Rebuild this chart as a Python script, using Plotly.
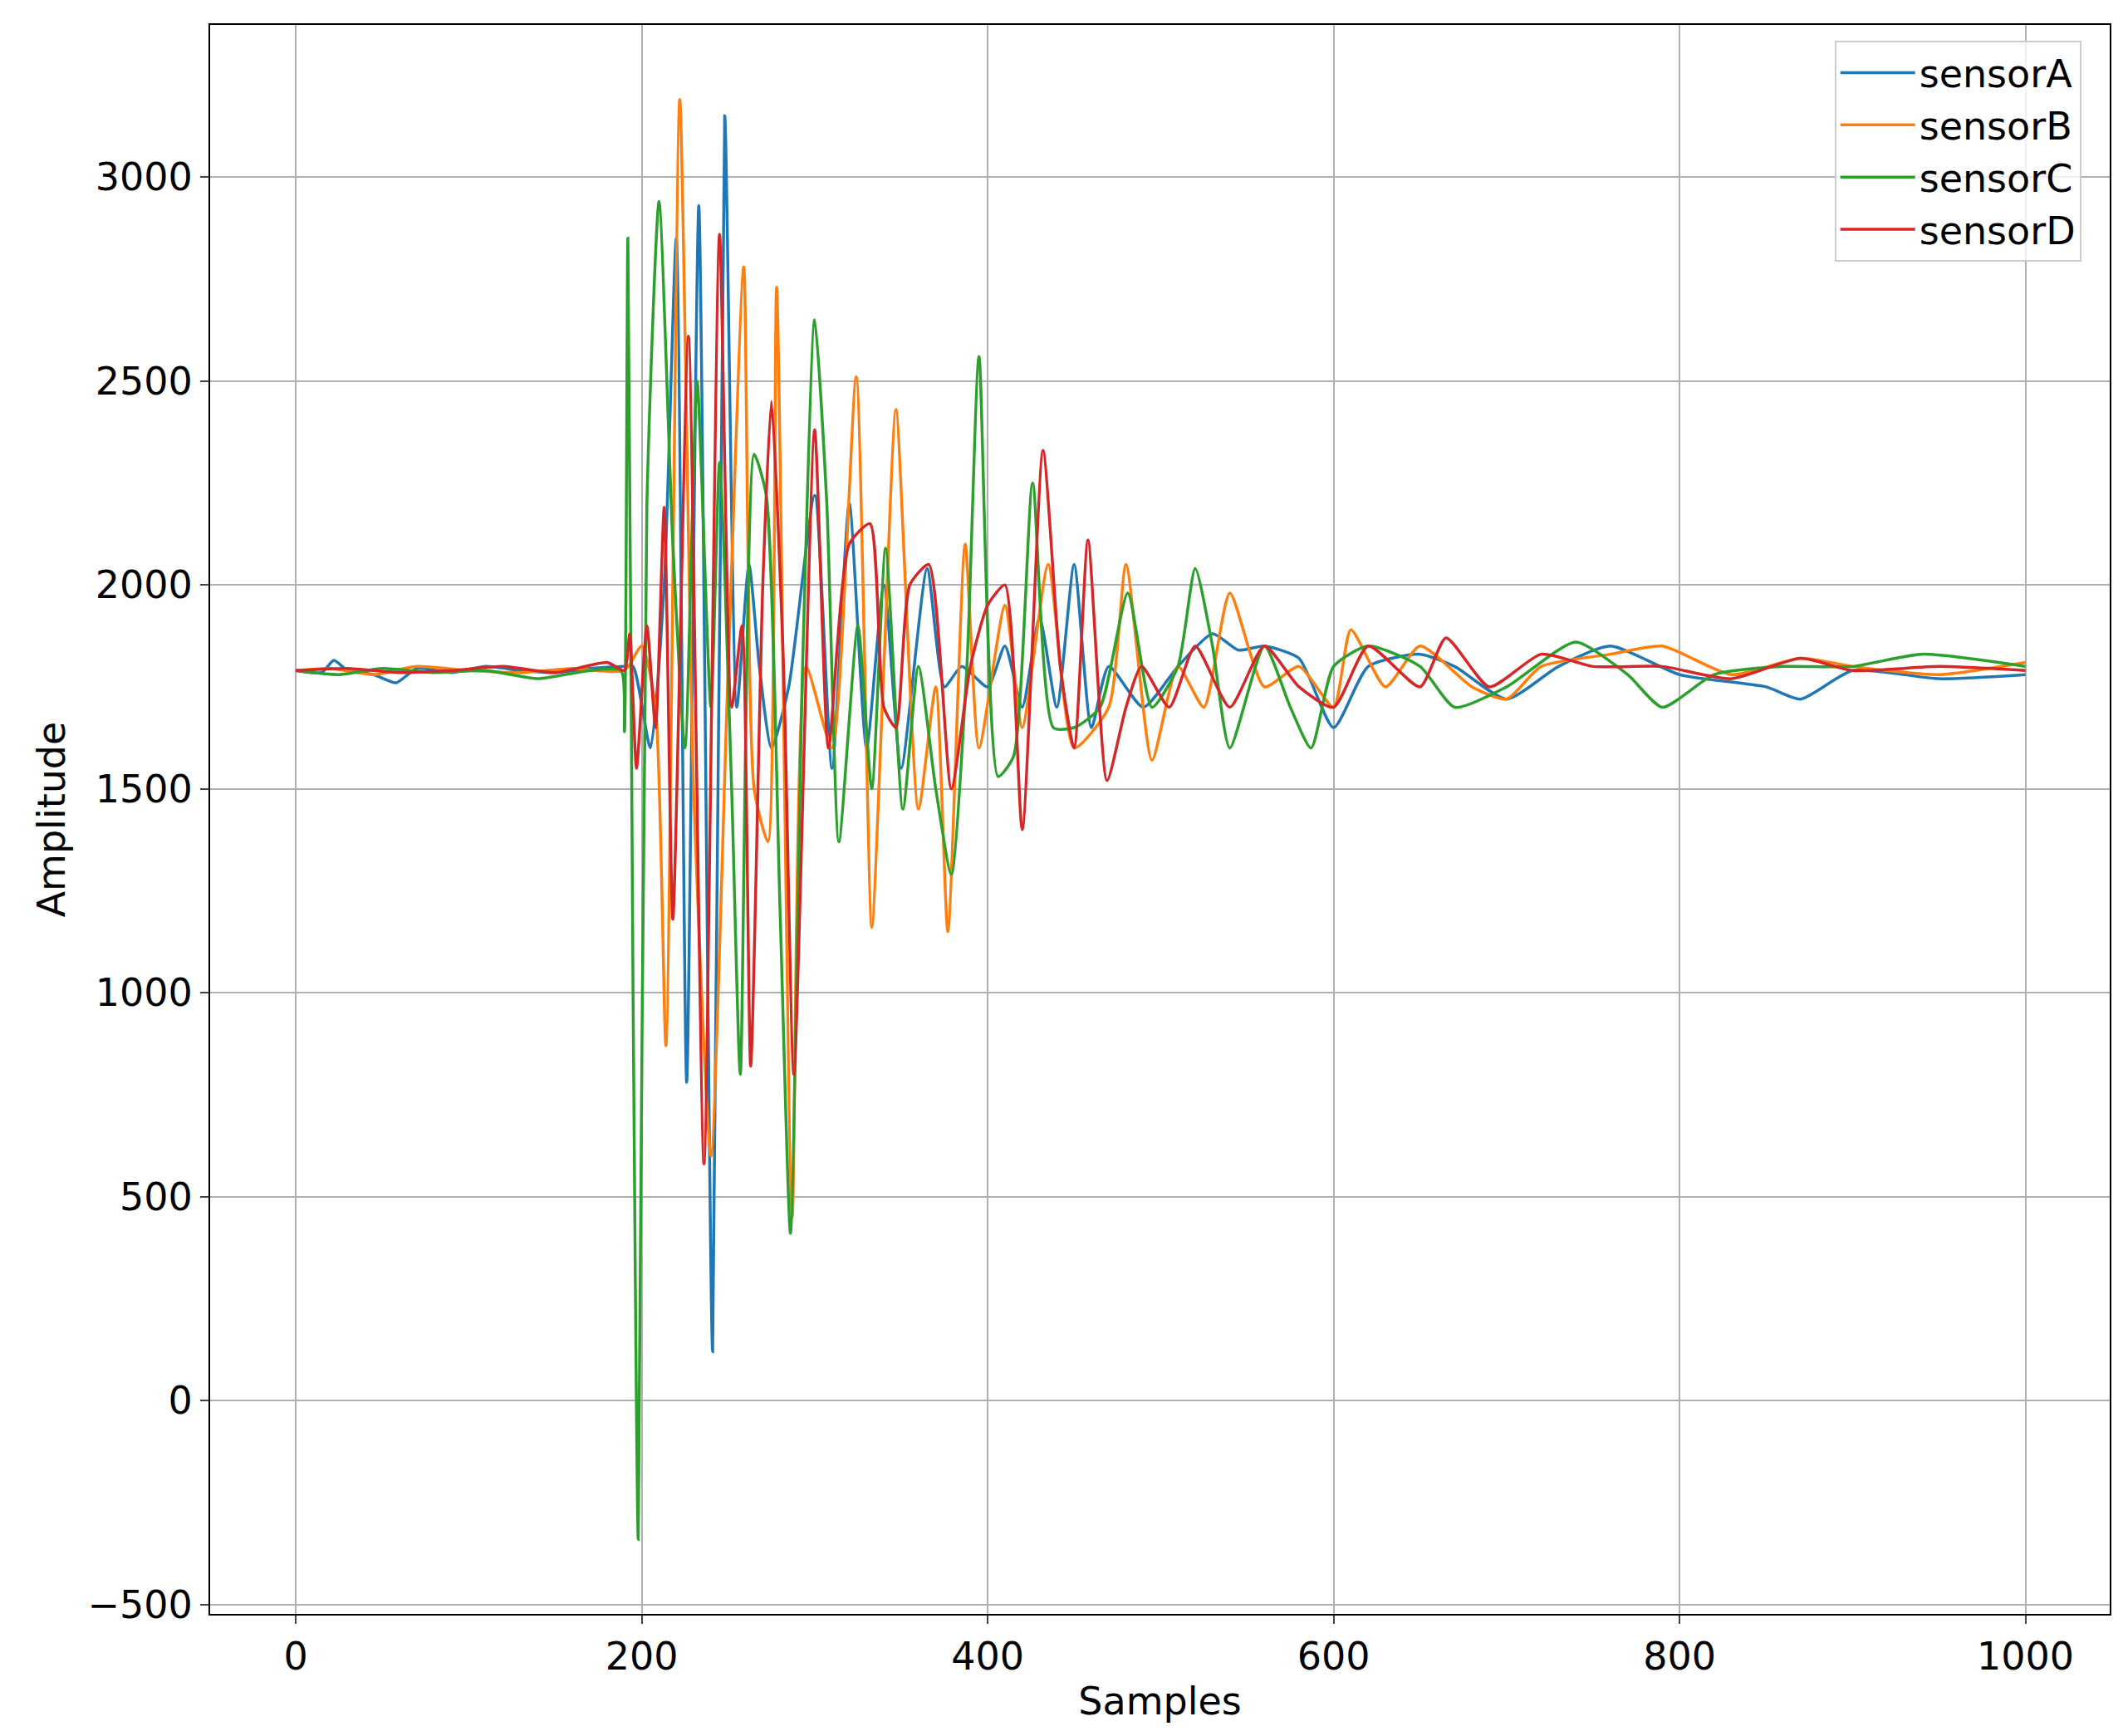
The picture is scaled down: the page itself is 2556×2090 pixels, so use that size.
import plotly.graph_objects as go

names = ["sensorA", "sensorB", "sensorC", "sensorD"]
colors = ["#1f77b4", "#ff7f0e", "#2ca02c", "#d62728"]

a_x = [0,15,22,30,45,58,70,90,110,130,150,170,190,195,205,213,220,226,233,241,248,255,262,268,275,285,300,310,320,330,340,350,365,375,385,400,410,420,430,440,450,460,470,490,510,530,545,560,580,600,620,650,670,700,730,760,800,850,870,900,950,1000]
a_y = [1790,1785,1815,1790,1780,1760,1795,1785,1800,1790,1785,1795,1800,1800,1600,2000,2850,780,2930,120,3150,1700,2050,1800,1600,1750,2220,1550,2200,1600,2000,1550,2040,1750,1800,1750,1850,1700,1920,1700,2050,1650,1800,1700,1800,1880,1840,1850,1820,1650,1800,1830,1800,1720,1800,1850,1780,1750,1720,1790,1770,1780]

b_x = [0,20,45,70,100,130,160,190,200,208,214,222,230,240,250,259,265,273,278,287,295,310,324,333,340,347,360,370,377,387,395,410,420,435,450,470,480,495,510,525,540,560,580,600,610,630,650,680,700,720,760,790,830,870,900,950,1000]
b_y = [1790,1795,1780,1800,1790,1785,1795,1790,1850,1700,870,3190,1500,600,1800,2780,1500,1370,2730,450,1800,1600,2510,1160,1800,2430,1450,1750,1150,2100,1600,1950,1650,2050,1600,1700,2050,1570,1800,1700,1980,1750,1800,1700,1890,1750,1850,1750,1720,1800,1830,1850,1780,1820,1800,1780,1810]

c_x = [0,25,50,80,110,140,170,188,190,192,195,198,203,210,218,225,232,240,245,252,257,265,272,280,286,293,300,307,314,325,333,341,351,360,370,379,388,395,406,415,426,438,450,465,481,495,510,520,530,540,560,575,587,600,620,650,670,700,740,770,790,820,860,900,940,1000]
c_y = [1790,1780,1795,1785,1790,1770,1790,1790,1640,2850,1000,-340,2200,2940,2100,1600,2500,1700,2300,1500,800,2320,2220,1200,410,1800,2650,2200,1370,1900,1500,2090,1450,1800,1500,1290,1800,2560,1530,1580,2250,1650,1650,1700,1980,1700,1800,2040,1850,1600,1850,1700,1600,1800,1850,1800,1700,1750,1860,1780,1700,1780,1800,1800,1830,1800]

d_x = [0,30,60,90,120,150,180,190,193,197,203,208,213,218,227,236,245,252,258,263,270,275,282,288,300,308,320,332,340,347,355,366,379,390,400,410,420,432,442,450,458,469,480,489,505,520,540,560,580,600,620,650,665,690,720,750,790,830,870,900,950,1000]
d_y = [1790,1795,1785,1790,1800,1785,1810,1790,1880,1550,1900,1650,2190,1180,2610,580,2860,1700,1900,820,2000,2450,1800,800,2380,1600,2100,2150,1700,1650,2000,2050,1500,1800,1950,2000,1400,2330,1800,1600,2110,1520,1700,1800,1700,1850,1700,1850,1750,1700,1850,1750,1870,1750,1830,1800,1800,1770,1820,1790,1800,1790]

series = [(a_x, a_y), (b_x, b_y), (c_x, c_y), (d_x, d_y)]

fig = go.Figure()
for (xs, ys), n, c in zip(series, names, colors):
    fig.add_trace(go.Scatter(x=xs, y=ys, mode="lines", name=n,
                             line=dict(color=c, width=3.5, shape="spline", smoothing=0.6)))

axis_common = dict(showgrid=True, gridcolor="#b0b0b0", gridwidth=1.5, zeroline=False,
                   showline=True, linecolor="black", linewidth=2, mirror=True,
                   ticks="outside", ticklen=10, tickwidth=2,
                   tickfont=dict(size=46, color="black"))
fig.update_layout(
    width=2556, height=2090, plot_bgcolor="white", paper_bgcolor="white",
    font=dict(family="DejaVu Sans", color="black"),
    margin=dict(l=245, r=24, t=22, b=155),
    xaxis=dict(range=[-49.5, 1048.7], tickvals=[0,200,400,600,800,1000],
               title=dict(text="Samples", font=dict(size=46), standoff=12), **axis_common),
    yaxis=dict(range=[-523, 3373], tickvals=[-500,0,500,1000,1500,2000,2500,3000],
               ticktext=["\u2212500","0","500","1000","1500","2000","2500","3000"],
               title=dict(text="Amplitude", font=dict(size=46), standoff=12), **axis_common),
    legend=dict(x=0.985, y=0.99, xanchor="right", yanchor="top", font=dict(size=46),
                bgcolor="rgba(255,255,255,0.8)", bordercolor="#cccccc", borderwidth=2,
                itemwidth=90, tracegroupgap=10),
)
fig.write_html("out.html")
